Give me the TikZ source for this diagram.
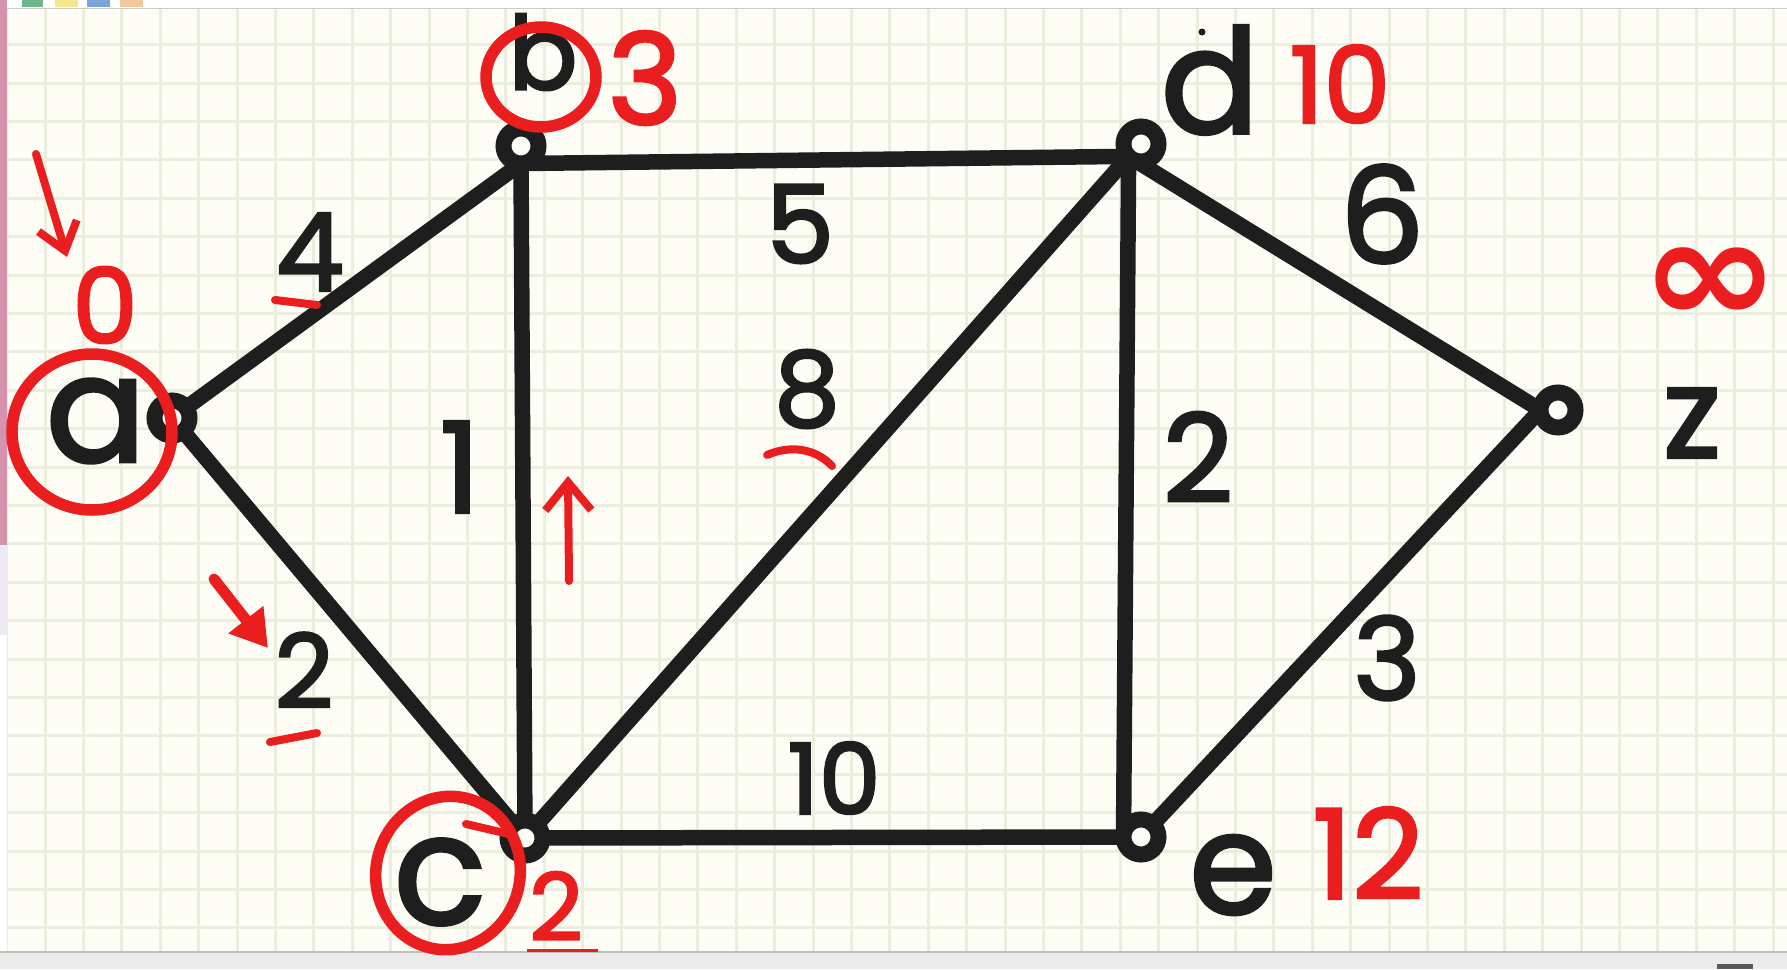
\documentclass[tikz,border=0pt]{standalone}
\usepackage{fontspec}
\setmainfont{Poppins}[FakeBold=2.5]
\newfontfamily\dvsfont{DejaVu Sans}
\usetikzlibrary{arrows.meta}
\definecolor{paper}{HTML}{FDFDF6}
\definecolor{gridc}{HTML}{ECEEDD}
\definecolor{ink}{HTML}{1E1E1E}
\definecolor{pen}{HTML}{EA1E1E}
\definecolor{pinkc}{HTML}{D493AD}
\definecolor{lavc}{HTML}{ECE9F0}
\definecolor{sqgreen}{HTML}{6DB68A}
\definecolor{sqyellow}{HTML}{F3E68A}
\definecolor{sqblue}{HTML}{7BA3D8}
\definecolor{sqorange}{HTML}{F3C79C}
\pgfdeclarelayer{paperlayer}
\pgfdeclarelayer{edgelayer}
\pgfsetlayers{paperlayer,edgelayer,main}
\tikzset{
  vertex/.style={circle, draw=ink, fill=paper, line width=16pt, minimum size=35pt, inner sep=0pt, outer sep=0pt},
  edge/.style={draw=ink, line width=15.5pt, line cap=round},
  lbl/.style={text=ink, inner sep=0pt, font=\fontsize{#1}{#1}\selectfont},
  rlbl/.style={text=pen, inner sep=0pt, font=\fontsize{#1}{#1}\selectfont},
  ring/.style={draw=pen, line width=11.5pt},
  redmark/.style={draw=pen, line width=8pt, line cap=round},
  redarrow/.style={draw=pen, line width=8pt, line cap=round}
}
\begin{document}
\begin{tikzpicture}[x=1pt,y=-1pt]
\useasboundingbox (0,0) rectangle (1787,969);
\begin{pgfonlayer}{paperlayer}
  \fill[white] (0,0) rectangle (1787,969);
  \fill[paper] (7,8) rectangle (1787,952);
  \begin{scope}
    \clip (7,8) rectangle (1787,952);
    \foreach \i in {0,...,46} {
      \draw[gridc, line width=3pt] (6.7+38.4*\i,8) -- (6.7+38.4*\i,952);
    }
    \foreach \j in {1,...,24} {
      \draw[gridc, line width=3pt] (7,6.2+38.4*\j) -- (1787,6.2+38.4*\j);
    }
  \end{scope}
  \fill[white] (0,0) rectangle (1787,8);
  \draw[black!20, line width=1.5pt] (0,8.5) -- (1787,8.5);
  \fill[sqgreen] (22,0) rectangle (43,7);
  \fill[sqyellow] (55,0) rectangle (78,7);
  \fill[sqblue] (87,0) rectangle (110,7);
  \fill[sqorange] (120,0) rectangle (143,7);
  \fill[pinkc] (0,0) rectangle (7,545);
  \fill[lavc] (0,545) rectangle (7,635);
  \fill[black!8] (0,952) rectangle (1787,969);
  \draw[black!25, line width=2pt] (0,952) -- (1787,952);
  \fill[black!65] (1717,964) rectangle (1753,969);
\end{pgfonlayer}

% vertices
\node[vertex] (a) at (172,418) {};
\node[vertex] (b) at (521,146) {};
\node[vertex] (c) at (525,838) {};
\node[vertex] (d) at (1141,144) {};
\node[vertex] (e) at (1141,837) {};
\node[vertex] (z) at (1558,410) {};

% edges
\begin{pgfonlayer}{edgelayer}
  \draw[edge] (a) -- (b.south);
  \draw[edge] (a) -- (c);
  \draw[edge] (b.south) -- (c);
  \draw[edge] (b.south) -- (d.225);
  \draw[edge] (c) -- (d.225);
  \draw[edge] (d.225) -- (e.west);
  \draw[edge] (c) -- (e.west);
  \draw[edge] (d.225) -- (z.west);
  \draw[edge] (e) -- (z.west);
\end{pgfonlayer}

% vertex names
\node[lbl=148] (la) at (96,421) {a};
\node[lbl=102] (lb) at (543,52) {b};
\node[lbl=152] (lc) at (440,882) {c};
\node[lbl=145] (ld) at (1210,80) {d};
\fill[ink] (1202,32) circle (3.5);
\node[lbl=140] (le) at (1233,875) {e};
\node[lbl=126] (lz) at (1692,423) {z};

% edge weights
\node[lbl=108] (w4) at (310,252) {4};
\node[lbl=126] (w1) at (460,467) {1};
\node[lbl=102] (w2a) at (304,670) {2};
\node[lbl=108] (w5) at (800,224) {5};
\node[lbl=104] (w8) at (807,389) {8};
\node[lbl=122] (w2b) at (1198,457) {2};
\node[lbl=133] (w6) at (1382,214) {6};
\node[lbl=98] (w10) at (834,778) {10};
\node[lbl=114] (w3) at (1387,658) {3};

% red distances
\node[rlbl=104] (r0) at (105,305) {0};
\node[rlbl=126] (r3) at (645,78) {3};
\node[rlbl=106] (r10) at (1340,84) {10};
\node[text=pen, inner sep=0pt, font=\dvsfont\bfseries\fontsize{150}{150}\selectfont, xscale=1.12] (rinf) at (1710,286) {∞};
\node[rlbl=124] (r12) at (1368,853) {12};
\node[rlbl=93] (r2) at (556,906) {2};

% red rings
\draw[ring] (92,432) ellipse [x radius=80, y radius=78];
\draw[ring] (541,77) ellipse [x radius=55, y radius=50];
\draw[ring, rotate around={-15:(448,873)}] (448,873) ellipse [x radius=72, y radius=77];

% red marks
\draw[redmark] (275,300) -- (317,305);
\draw[redmark] (270,742) -- (317,733);
\draw[redmark] (767,455) .. controls (790,445) and (815,448) .. (832,466);
\draw[redmark] (466,824) -- (513,835);
\draw[draw=pen, line width=3pt] (527,950) -- (598,950);

% red arrows
\draw[redarrow, -{Straight Barb[length=26pt,width=40pt]}] (36,154) -- (67,257);
\draw[redarrow, line width=11pt, -{Triangle[length=36pt,width=42pt]}] (214,579) -- (268,648);
\draw[redarrow, -{Straight Barb[length=28pt,width=46pt]}] (569,581) -- (568,476);
\end{tikzpicture}
\end{document}
